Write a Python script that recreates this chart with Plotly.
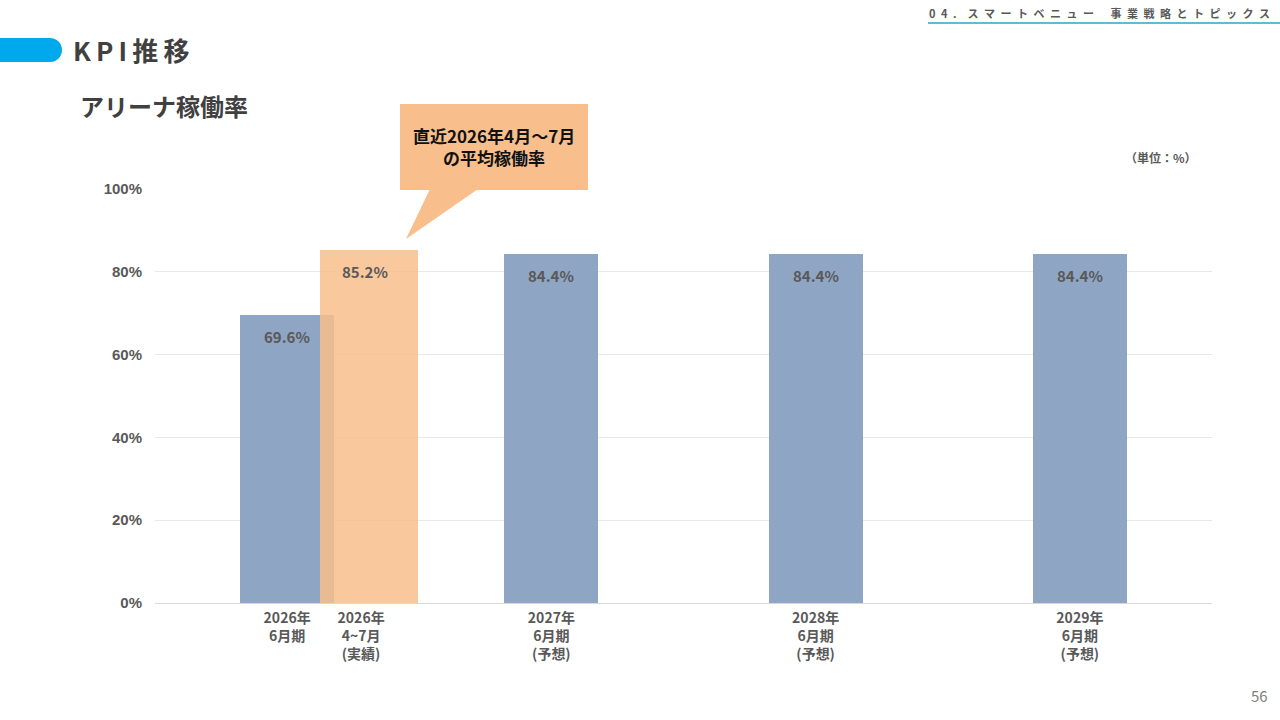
import plotly.graph_objects as go

# data
periods = ["2026年<br>6月期", "2027年<br>6月期<br>(予想)", "2028年<br>6月期<br>(予想)", "2029年<br>6月期<br>(予想)"]
period_pos = [0, 1, 2, 3]
rates = [69.6, 84.4, 84.4, 84.4]

recent_label = "2026年<br>4~7月<br>(実績)"
recent_pos = [0.31]
recent_rate = [85.2]

y_ticks = [0, 20, 40, 60, 80, 100]
y_ticktext = ["0%", "20%", "40%", "60%", "80%", "100%"]

# pixel -> paper helpers (plot area 155..1212 x, 189..603 y)
L, R, T, B = 155, 1212, 189, 603
def px(x):
    return (x - L) / (R - L)
def py(y):
    return (B - y) / (B - T)

FONT = "Noto Sans CJK JP"
GRAY = "#595959"

fig = go.Figure()
fig.add_trace(go.Bar(x=period_pos, y=rates, width=0.356,
                     marker=dict(color="#8fa5c4", line=dict(width=0)),
                     hoverinfo="skip"))
fig.add_trace(go.Bar(x=recent_pos, y=recent_rate, width=0.371,
                     marker=dict(color="rgba(248,190,140,0.85)", line=dict(width=0)),
                     hoverinfo="skip"))

anns = []
for xv, yv in zip(period_pos + recent_pos, rates + recent_rate):
    anns.append(dict(x=xv - (0.015 if xv == recent_pos[0] else 0), y=yv, text=f"<b>{yv:.1f}%</b>",
                     showarrow=False, xanchor="center", yanchor="top", yshift=-9,
                     font=dict(family=FONT, size=15, color=GRAY)))

def page_text(x, y, text, size, color, xanchor="left"):
    anns.append(dict(xref="paper", yref="paper", x=px(x), y=py(y), text=text,
                     showarrow=False, xanchor=xanchor, yanchor="middle",
                     font=dict(family=FONT, size=size, color=color), align="center"))

sp = "\u2002"
header = sp.join("04.") + sp * 2 + sp.join("スマートベニュー") + sp * 3 + sp.join("事業戦略とトピックス")

page_text(494, 146, "<b>直近2026年4月～7月<br>の平均稼働率</b>", 17, "#111111", "center")
page_text(71, 49, "<b>" + "\u2009".join("KPI推移") + "</b>", 26, "#404040")
page_text(78, 105, "<b>アリーナ稼働率</b>", 24, "#404040")
page_text(1199, 157, "<b>（単位：%）</b>", 12, GRAY, "right")
page_text(1272, 13, "<b>" + header + "</b>", 11, GRAY, "right")
page_text(1270, 695, "56", 15, "#7f7f7f", "right")

shapes = [
    # callout box and tail
    dict(type="rect", xref="paper", yref="paper", x0=px(400), x1=px(588), y0=py(190), y1=py(104),
         fillcolor="#f8be8c", line=dict(width=0), layer="below"),
    dict(type="path", xref="paper", yref="paper",
         path=f"M {px(430)},{py(189)} L {px(478)},{py(189)} L {px(406)},{py(239)} Z",
         fillcolor="#f8be8c", line=dict(width=0), layer="above"),
    # header underline
    dict(type="line", xref="paper", yref="paper", x0=px(928), x1=px(1280), y0=py(23), y1=py(23),
         line=dict(color="#2fa3c4", width=1.5)),
    # title bar
    dict(type="rect", xref="paper", yref="paper", x0=px(0), x1=px(50), y0=py(62), y1=py(38),
         fillcolor="#00a9eb", line=dict(width=0)),
    dict(type="circle", xref="paper", yref="paper", x0=px(38), x1=px(62), y0=py(62), y1=py(38),
         fillcolor="#00a9eb", line=dict(width=0)),
]

fig.update_layout(
    width=1280, height=720,
    margin=dict(l=L, r=1280 - R, t=T, b=720 - B),
    paper_bgcolor="white", plot_bgcolor="white",
    showlegend=False, barmode="overlay", bargap=0,
    annotations=anns, shapes=shapes,
    font=dict(family=FONT, color=GRAY),
)
fig.update_xaxes(range=[-0.5, 3.5], tickmode="array",
                 tickvals=[0, 0.28, 1, 2, 3],
                 ticktext=["<b>" + t + "</b>" for t in [periods[0], recent_label] + periods[1:]],
                 tickfont=dict(family=FONT, size=14, color=GRAY),
                 showgrid=False, zeroline=False, showline=True, linecolor="#d9d9d9",
                 ticks="", ticklabelstandoff=2)
fig.update_yaxes(range=[0, 100], tickmode="array", tickvals=y_ticks,
                 ticktext=["<b>" + t + "</b>" for t in y_ticktext],
                 tickfont=dict(family="Liberation Sans", size=15, color=GRAY),
                 showgrid=True, gridcolor="#e8e8e8", gridwidth=1, zeroline=False,
                 ticklabelstandoff=12)

fig.write_html("out.html", config={"displayModeBar": False},
               post_script="document.body.style.margin='0';")
